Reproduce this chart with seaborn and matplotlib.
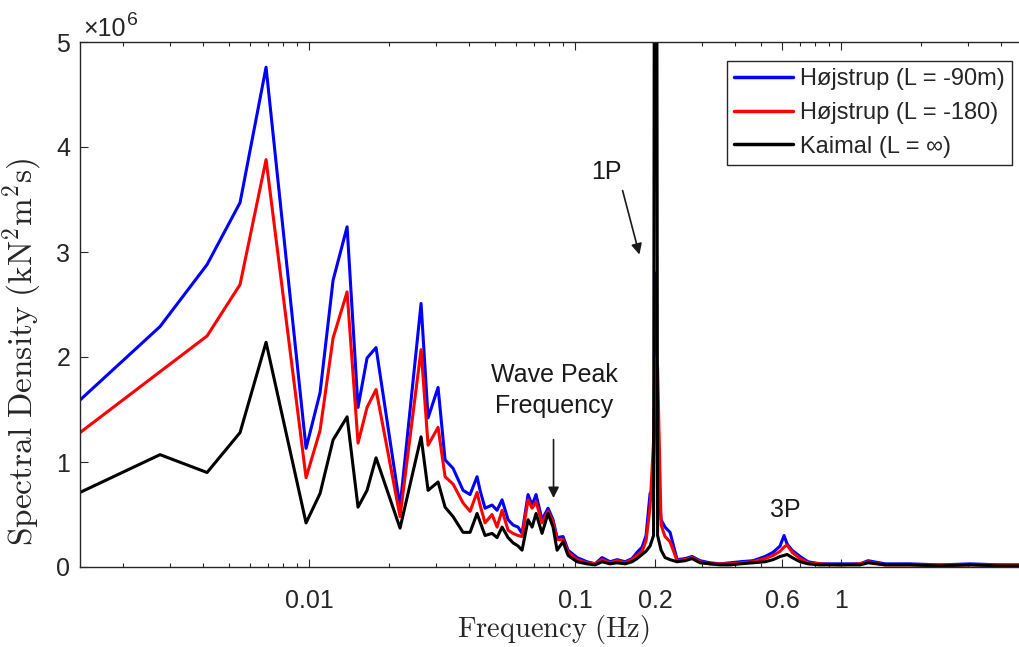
import numpy as np
import pandas as pd
import matplotlib
matplotlib.use("Agg")
import matplotlib.pyplot as plt
from matplotlib.ticker import FixedLocator, FixedFormatter, LogLocator, NullFormatter
import seaborn as sns

# ---------------- data ----------------
freq_hz = [0.001377, 0.002753, 0.004136, 0.005503, 0.006893, 0.009744, 0.01100, 0.01231,
           0.01390, 0.01528, 0.01652, 0.01786, 0.02198, 0.02637, 0.02802, 0.03055,
           0.03246, 0.03478, 0.03793, 0.04030, 0.04281, 0.04394, 0.04588, 0.04875,
           0.05091, 0.05316, 0.05600, 0.05847, 0.06105, 0.06321, 0.06658, 0.06893,
           0.07135, 0.07513, 0.07914, 0.08266, 0.08558, 0.09012, 0.09412, 0.1017,
           0.1109, 0.1189, 0.1263, 0.1354, 0.1439, 0.1542, 0.1638, 0.1711,
           0.1787, 0.1849, 0.1914, 0.1973, 0.2007, 0.2043, 0.2106, 0.2179,
           0.2276, 0.2418, 0.2591, 0.2754, 0.2951, 0.3217, 0.3508, 0.3825,
           0.4172, 0.4669, 0.5178, 0.5551, 0.5898, 0.6105, 0.6266, 0.6544,
           0.7015, 0.7516, 0.8339, 0.9914, 1.179, 1.263, 1.464, 1.817,
           2.356, 3.055, 3.960, 5.135]

# spectral density, units of 1e6 kN^2 m^2 s
psd_hojstrup_90 = [1.59, 2.29, 2.88, 3.47, 4.76, 1.13, 1.66, 2.73,
                   3.24, 1.52, 1.99, 2.09, 0.57, 2.51, 1.42, 1.71,
                   1.02, 0.94, 0.73, 0.69, 0.86, 0.73, 0.56, 0.59,
                   0.54, 0.64, 0.45, 0.40, 0.38, 0.32, 0.69, 0.59,
                   0.69, 0.45, 0.56, 0.45, 0.28, 0.29, 0.16, 0.09,
                   0.05, 0.03, 0.09, 0.05, 0.07, 0.05, 0.08, 0.14,
                   0.19, 0.30, 0.70, 0.75, 2.80, 0.90, 0.45, 0.38,
                   0.33, 0.07, 0.08, 0.10, 0.06, 0.04, 0.03, 0.04,
                   0.05, 0.06, 0.10, 0.14, 0.20, 0.30, 0.22, 0.16,
                   0.10, 0.05, 0.03, 0.03, 0.03, 0.06, 0.03, 0.03,
                   0.02, 0.03, 0.02, 0.02]

psd_hojstrup_180 = [1.28, 1.86, 2.20, 2.69, 3.88, 0.85, 1.30, 2.18,
                    2.62, 1.18, 1.52, 1.69, 0.48, 2.07, 1.16, 1.33,
                    0.86, 0.79, 0.61, 0.53, 0.71, 0.59, 0.42, 0.50,
                    0.38, 0.54, 0.35, 0.32, 0.30, 0.29, 0.64, 0.56,
                    0.62, 0.42, 0.53, 0.43, 0.26, 0.26, 0.14, 0.07,
                    0.04, 0.03, 0.07, 0.04, 0.06, 0.04, 0.07, 0.11,
                    0.15, 0.25, 0.57, 1.20, 2.00, 1.90, 0.40, 0.29,
                    0.24, 0.06, 0.07, 0.09, 0.05, 0.03, 0.03, 0.03,
                    0.04, 0.05, 0.08, 0.11, 0.15, 0.19, 0.21, 0.14,
                    0.08, 0.04, 0.03, 0.02, 0.03, 0.05, 0.02, 0.02,
                    0.02, 0.02, 0.02, 0.02]

psd_kaimal = [0.71, 1.07, 0.90, 1.28, 2.14, 0.42, 0.70, 1.21,
              1.43, 0.57, 0.73, 1.04, 0.37, 1.24, 0.73, 0.81,
              0.57, 0.48, 0.33, 0.33, 0.51, 0.43, 0.30, 0.32,
              0.28, 0.38, 0.28, 0.23, 0.20, 0.16, 0.45, 0.38,
              0.51, 0.32, 0.51, 0.38, 0.16, 0.24, 0.11, 0.05,
              0.03, 0.02, 0.05, 0.03, 0.04, 0.03, 0.05, 0.08,
              0.12, 0.15, 0.20, 0.30, 15.0, 0.30, 0.16, 0.09,
              0.07, 0.05, 0.06, 0.08, 0.04, 0.03, 0.02, 0.02,
              0.03, 0.04, 0.05, 0.07, 0.10, 0.11, 0.12, 0.09,
              0.05, 0.03, 0.02, 0.02, 0.02, 0.04, 0.02, 0.02,
              0.01, 0.02, 0.01, 0.01]

series_labels = ["Højstrup (L = -90m)", "Højstrup (L = -180)", "Kaimal (L = ∞)"]
series_colors = ["#0000FF", "#FF0000", "#000000"]

xtick_values = [0.01, 0.1, 0.2, 0.6, 1]
xtick_labels = ["0.01", "0.1", "0.2", "0.6", "1"]
ytick_values = [0, 1, 2, 3, 4, 5]
ytick_labels = ["0", "1", "2", "3", "4", "5"]

# ---------------- style ----------------
sns.set_style("ticks")
plt.rcParams["font.family"] = ["Liberation Sans", "DejaVu Sans"]
plt.rcParams["mathtext.fontset"] = "cm"

frames = []
for lab, vals in zip(series_labels, [psd_hojstrup_90, psd_hojstrup_180, psd_kaimal]):
    frames.append(pd.DataFrame({"freq": freq_hz, "psd": vals, "series": lab}))
df = pd.concat(frames, ignore_index=True)

fig = plt.figure(figsize=(10.19, 6.47), dpi=100)
ax = fig.add_axes([80 / 1019, 80 / 647, 947 / 1019, 525 / 647])

sns.lineplot(data=df, x="freq", y="psd", hue="series", hue_order=series_labels,
             palette=dict(zip(series_labels, series_colors)), sort=False,
             estimator=None, linewidth=2.2, ax=ax)

ax.set_xscale("log")
ax.set_xlim(0.001377, 5.0)
ax.set_ylim(0, 5)

dark = "#262626"
ax.xaxis.set_major_locator(FixedLocator(xtick_values))
ax.xaxis.set_major_formatter(FixedFormatter(xtick_labels))
ax.xaxis.set_minor_locator(LogLocator(base=10, subs=np.arange(2, 10)))
ax.xaxis.set_minor_formatter(NullFormatter())
ax.yaxis.set_major_locator(FixedLocator(ytick_values))
ax.yaxis.set_major_formatter(FixedFormatter(ytick_labels))

ax.tick_params(which="both", direction="in", top=True, right=True, colors=dark,
               labelcolor=dark, width=0.8)
ax.tick_params(which="major", length=6, labelsize=18)
ax.tick_params(axis="x", which="major", pad=16)
ax.tick_params(axis="y", which="major", pad=7)
ax.tick_params(which="minor", length=3)
for sp in ax.spines.values():
    sp.set_visible(True)
    sp.set_color(dark)
    sp.set_linewidth(1.0)

ax.set_xlabel(r"$\mathrm{Frequency\ (Hz)}$", fontsize=20.5, color=dark, labelpad=0)
ax.set_ylabel(r"$\mathrm{Spectral\ Density\ (kN^2m^2s)}$", fontsize=24, color=dark)
ax.yaxis.set_label_coords(-0.038, 0.41)

# exponent label
ax.text(0.003, 1.012, "×10", transform=ax.transAxes, fontsize=18, color=dark,
        ha="left", va="baseline")
ax.text(0.050, 1.033, "6", transform=ax.transAxes, fontsize=14, color=dark,
        ha="left", va="baseline")

# annotations
ann_col = "#1a1a1a"
ax.text(0.1308, 3.76, "1P", fontsize=18, color=ann_col, ha="center", va="center")
ax.annotate("", xy=(0.1756, 2.95), xytext=(0.150, 3.61),
            arrowprops=dict(arrowstyle="-|>", color=ann_col, lw=1.2, mutation_scale=16))
ax.text(0.0834, 1.68, "Wave Peak\nFrequency", fontsize=18, color=ann_col,
        ha="center", va="center", linespacing=1.35)
ax.annotate("", xy=(0.0830, 0.63), xytext=(0.0830, 1.24),
            arrowprops=dict(arrowstyle="-|>", color=ann_col, lw=1.2, mutation_scale=16))
ax.text(0.615, 0.54, "3P", fontsize=18, color=ann_col, ha="center", va="center")

leg = ax.legend(loc="upper right", bbox_to_anchor=(0.984, 0.964), borderaxespad=0,
                fontsize=17, handlelength=2.5, handletextpad=0.3, borderpad=0.3,
                labelspacing=0.5, fancybox=False, framealpha=1, title=None)
leg.get_frame().set_edgecolor(dark)
leg.get_frame().set_linewidth(1.0)
for line in leg.get_lines():
    line.set_linewidth(2.5)

fig.savefig("out.png", dpi=100)
